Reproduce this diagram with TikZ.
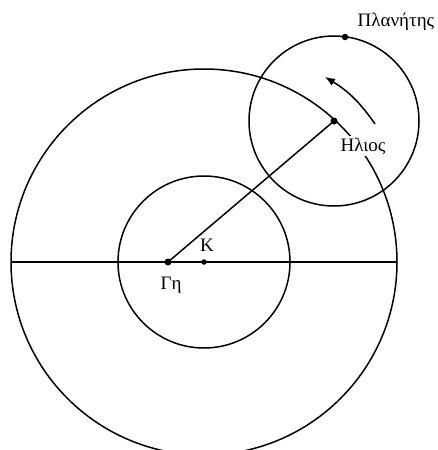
\documentclass[tikz,border=0pt]{standalone}
\usepackage{fontspec}
\setmainfont{Liberation Serif}
\usetikzlibrary{arrows.meta}
\begin{document}
\begin{tikzpicture}[x=1pt,y=-1pt,
  curve/.style={line width=1.5pt},
  dot/.style={circle,fill=black,inner sep=0pt,minimum size=#1},
  lbl/.style={font=\fontsize{19}{21}\selectfont,inner sep=1.5pt}]
\useasboundingbox (0,0) rectangle (437,450);
\coordinate (K) at (204,262);
\coordinate (E) at (168,262);
\coordinate (S) at (334,121);
\coordinate (L) at (11,262);
\coordinate (R) at (397,262);
\coordinate (P) at (345,37);
\coordinate (A1) at (375,124);
\coordinate (A2) at (325,77);
% deferent, equant-circle, epicycle
\draw[curve] (K) circle[radius=193];
\draw[curve] (K) circle[radius=86];
\draw[curve] (S) circle[radius=85];
\draw[curve] (L) -- (R);
\draw[curve] (E) -- (S);
\draw[curve,-{Latex[length=10pt,width=8pt]}] (A1) to[bend right=12] (A2);
% points
\node[dot=7pt] (Ed) at (E) {};
\node[dot=5.5pt] (Kd) at (K) {};
\node[dot=7pt] (Sd) at (S) {};
\node[dot=6.5pt] (Pd) at (P) {};
% labels
\node[lbl] (Pl) at (396,22) {Πλανήτης};
\node[lbl,fill=white] (Sl) at (363,146) {Ηλιος};
\node[lbl] (Kl) at (207,245) {K};
\node[lbl] (El) at (171,285) {Γη};
\end{tikzpicture}
\end{document}
